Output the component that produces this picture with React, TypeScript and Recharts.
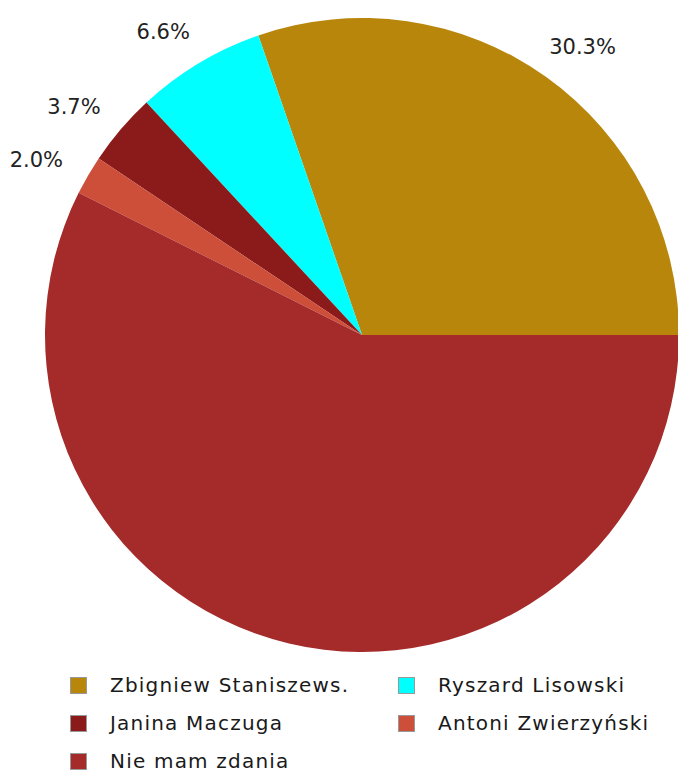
import { PieChart, Pie, Cell, Legend } from "recharts";

const names = [
  "Zbigniew Staniszews.",
  "Ryszard Lisowski",
  "Janina Maczuga",
  "Antoni Zwierzyński",
  "Nie mam zdania",
];
const values = [30.3, 6.6, 3.7, 2.0, 57.4];
const colors = ["#B8860B", "#00FFFF", "#8B1A1A", "#CD4F39", "#A52A2A"];
const labelTexts = ["30.3%", "6.6%", "3.7%", "2.0%", ""];

const data = names.map((name, i) => ({ name, value: values[i] }));

const RAD = Math.PI / 180;

const renderLabel = (props: any) => {
  const { cx, cy, outerRadius, midAngle, index } = props;
  const text = labelTexts[index];
  if (!text) return null;
  const r = outerRadius + 46;
  const cos = Math.cos(-midAngle * RAD);
  const x = cx + r * cos + (cos >= 0 ? 10 : -12);
  const y = cy + r * Math.sin(-midAngle * RAD) + 8;
  return (
    <text
      x={x}
      y={y}
      fill="#222"
      fontSize={21}
      fontFamily="DejaVu Sans"
      textAnchor="middle"
      dominantBaseline="central"
    >
      {text}
    </text>
  );
};

const LegendBox = () => {
  const order = [0, 1, 2, 3, 4];
  return (
    <div style={{ position: "relative", width: 678, height: 110 }}>
      {order.map((i) => {
        const col = i % 2;
        const row = Math.floor(i / 2);
        return (
          <div
            key={names[i]}
            style={{
              position: "absolute",
              left: col === 0 ? 70 : 398,
              top: row * 38,
              display: "flex",
              alignItems: "center",
              height: 18,
            }}
          >
            <span
              style={{
                width: 15,
                height: 15,
                background: colors[i],
                border: "1px solid #999",
                display: "inline-block",
              }}
            />
            <span
              style={{
                marginLeft: 23,
                fontFamily: "DejaVu Sans",
                fontSize: 20,
                color: "#1a1a1a",
                letterSpacing: 1.2,
                whiteSpace: "nowrap",
              }}
            >
              {names[i]}
            </span>
          </div>
        );
      })}
    </div>
  );
};

export default function App() {
  return (
    <div style={{ position: "absolute", left: 0, top: 0, width: 678, height: 772, background: "#fff" }}>
      <PieChart width={678} height={772} margin={{ top: 0, right: 0, bottom: 0, left: 0 }}>
        <Pie
          data={data}
          dataKey="value"
          nameKey="name"
          cx={362}
          cy={335}
          outerRadius={317}
          startAngle={0}
          endAngle={360}
          stroke="none"
          label={renderLabel}
          labelLine={false}
          isAnimationActive={false}
        >
          {data.map((d, i) => (
            <Cell key={d.name} fill={colors[i]} />
          ))}
        </Pie>
        <Legend
          content={() => <LegendBox />}
          wrapperStyle={{ position: "absolute", left: 0, top: 676, width: 678 }}
        />
      </PieChart>
    </div>
  );
}
